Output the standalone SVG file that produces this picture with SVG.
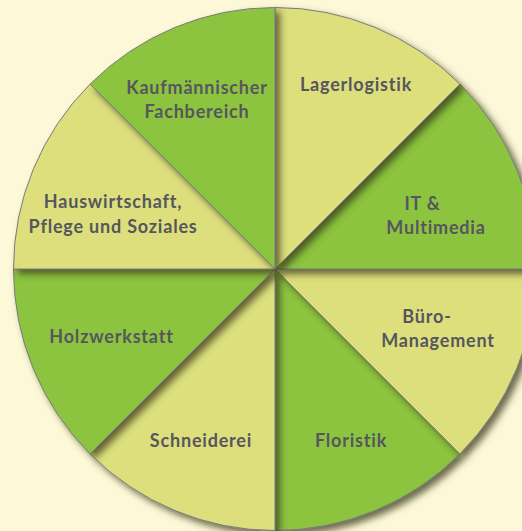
<svg xmlns="http://www.w3.org/2000/svg" width="522" height="531" viewBox="0 0 522 531">
<defs>
<filter id="sh" x="-20%" y="-20%" width="140%" height="140%">
<feDropShadow dx="4.5" dy="4.5" stdDeviation="3.5" flood-color="#3b3b1e" flood-opacity="0.75"/>
</filter>
</defs>
<style>
.g{fill:#8cc43f;stroke:#7a7a80;stroke-width:1;filter:url(#sh)}
.y{fill:#dcdf7c;stroke:#7a7a80;stroke-width:1;filter:url(#sh)}
text{font-family:Lato,"Noto Sans",sans-serif;font-weight:bold;font-size:18px;fill:#56565e;text-anchor:middle;letter-spacing:0.8px}
</style>
<rect width="522" height="531" fill="#fdf9d8"/>
<g id="floristik">
<path class="g" d="M275 269 L459.9 453.9 A261.5 261.5 0 0 1 275 530.5 Z"/>
<text x="351" y="447">Floristik</text>
</g>
<g id="buero">
<path class="y" d="M275 269 L536.5 269 A261.5 261.5 0 0 1 459.9 453.9 Z"/>
<text x="427" y="323">Büro-</text>
<text x="438" y="347">Management</text>
</g>
<g id="schneiderei">
<path class="y" d="M275 269 L275 530.5 A261.5 261.5 0 0 1 90.1 453.9 Z"/>
<text x="201" y="447">Schneiderei</text>
</g>
<g id="it">
<path class="g" d="M275 269 L459.9 84.1 A261.5 261.5 0 0 1 536.5 269 Z"/>
<text x="422.5" y="210">IT &amp;</text>
<text x="436" y="234">Multimedia</text>
</g>
<g id="holzwerkstatt">
<path class="g" d="M275 269 L90.1 453.9 A261.5 261.5 0 0 1 13.5 269 Z"/>
<text x="111.5" y="342.5">Holzwerkstatt</text>
</g>
<g id="lagerlogistik">
<path class="y" d="M275 269 L275 7.5 A261.5 261.5 0 0 1 459.9 84.1 Z"/>
<text x="356" y="90.5">Lagerlogistik</text>
</g>
<g id="hauswirtschaft">
<path class="y" d="M275 269 L13.5 269 A261.5 261.5 0 0 1 90.1 84.1 Z"/>
<text x="113" y="208">Hauswirtschaft,</text>
<text x="113" y="233">Pflege und Soziales</text>
</g>
<g id="kaufmaennisch">
<path class="g" d="M275 269 L90.1 84.1 A261.5 261.5 0 0 1 275 7.5 Z"/>
<text x="197" y="94">Kaufmännischer</text>
<text x="197" y="118">Fachbereich</text>
</g>
<g id="connectors"/>
</svg>
